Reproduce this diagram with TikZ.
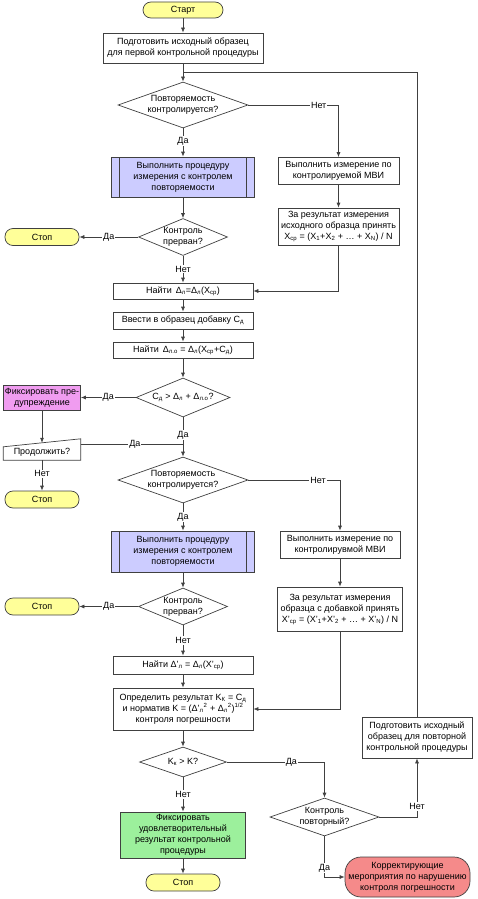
\documentclass[tikz,border=0pt]{standalone}
\usepackage{fontspec}
\setmainfont{Liberation Sans}
\usetikzlibrary{shapes.geometric,arrows.meta}

\definecolor{linegray}{HTML}{404040}
\definecolor{termyellow}{HTML}{FFFF99}
\definecolor{procblue}{HTML}{CCCCFF}
\definecolor{warnpink}{HTML}{F09CF0}
\definecolor{okgreen}{HTML}{9CF09C}
\definecolor{fixred}{HTML}{F58A8A}

\begin{document}
\begin{tikzpicture}[x=1pt, y=-1pt, >={Latex[length=5pt,width=4pt]},
    every node/.style={font=\fontsize{9}{11}\selectfont, align=center},
    box/.style={draw=linegray, line width=0.7pt, fill=white, inner sep=1pt},
    term/.style={box, rounded corners=8pt, fill=termyellow, minimum width=74pt, minimum height=17pt},
    subproc/.style={box, fill=procblue, minimum width=143pt, path picture={
        \draw[linegray, line width=0.7pt]
          ([xshift=8pt]path picture bounding box.north west) -- ([xshift=8pt]path picture bounding box.south west)
          ([xshift=-8pt]path picture bounding box.north east) -- ([xshift=-8pt]path picture bounding box.south east);}},
    decide/.style={diamond, draw=linegray, line width=0.7pt, fill=white, inner sep=0pt},
    lbl/.style={fill=white, inner sep=1pt},
    flow/.style={draw=linegray, line width=0.7pt}]
    \useasboundingbox (0,0) rectangle (477,899);

    \node[term, minimum width=80pt, minimum height=16pt] (start) at (183,10) {Старт};
    \node[box, minimum width=160pt, minimum height=30pt] (prep1) at (183,48) {Подготовить исходный образец\\для первой контрольной процедуры};
    \node[decide, minimum width=130pt, minimum height=46pt, aspect=2.8] (rep1) at (183,105) {Повторяемость\\контролируется?};
    \node[subproc, minimum height=40pt] (meas1) at (183,177) {Выполнить процедуру\\измерения с контролем\\повторяемости};
    \node[decide, minimum width=89pt, minimum height=37pt, aspect=2.4] (int1) at (183,237) {Контроль\\прерван?};
    \node[term] (stop1) at (42,237) {Стоп};
    \node[box, minimum width=121pt, minimum height=27pt] (mvi1) at (338.5,171) {Выполнить измерение по\\контролируемой МВИ};
    \node[box, minimum width=121pt, minimum height=37pt] (avg1) at (338.5,226.5) {За результат измерения\\исходного образца принять\\X\textsubscript{ср} = (X\textsubscript{1}+X\textsubscript{2} + … + X\textsubscript{N}) / N};
    \node[box, minimum width=140pt, minimum height=16pt] (find1) at (183,291) {Найти\, Δ\textsubscript{л}=Δ\textsubscript{л}(X\textsubscript{ср})};
    \node[box, minimum width=140pt, minimum height=17pt] (add) at (183,320.5) {Ввести в образец добавку C\textsubscript{д}};
    \node[box, minimum width=140pt, minimum height=16pt] (find2) at (183,350) {Найти\, Δ\textsubscript{л.о} = Δ\textsubscript{л}(X\textsubscript{ср}+C\textsubscript{д})};
    \node[decide, minimum width=94pt, minimum height=39pt, aspect=2.4] (cmp) at (183,397.5) {C\textsubscript{д} > Δ\textsubscript{л} + Δ\textsubscript{л.о}?};
    \node[box, fill=warnpink, inner sep=0.5pt, minimum width=77pt, minimum height=25pt] (warn) at (42,397.5) {Фиксировать пре-\\дупреждение};
    \node[minimum width=77pt, minimum height=21pt, inner sep=0pt] (cont) at (42,449.5) {\raisebox{-2.5pt}[\height][\depth]{Продолжить?}};
    \node[term] (stop2) at (42,499.5) {Стоп};
    \node[decide, minimum width=130pt, minimum height=46pt, aspect=2.8] (rep2) at (183,480) {Повторяемость\\контролируется?};
    \node[subproc, minimum height=41pt] (meas2) at (183,551.5) {Выполнить процедуру\\измерения с контролем\\повторяемости};
    \node[box, minimum width=120pt, minimum height=27pt] (mvi2) at (340,544.5) {Выполнить измерение по\\контролирувмой МВИ};
    \node[box, minimum width=125pt, minimum height=44pt] (avg2) at (340,609) {За результат измерения\\образца с добавкой принять\\X'\textsubscript{ср} = (X'\textsubscript{1}+X'\textsubscript{2} + … + X'\textsubscript{N}) / N};
    \node[decide, minimum width=89pt, minimum height=37pt, aspect=2.4] (int2) at (183,606.5) {Контроль\\прерван?};
    \node[term] (stop3) at (42,606.5) {Стоп};
    \node[box, minimum width=140pt, minimum height=18pt] (find3) at (183,665) {Найти Δ'\textsubscript{л} = Δ\textsubscript{л}(X'\textsubscript{ср})};
    \node[box, minimum width=140pt, minimum height=42pt] (result) at (183,709) {Определить результат K\textsubscript{К} = C\textsubscript{д}\\и норматив K = (Δ'\textsubscript{л}\textsuperscript{2} + Δ\textsubscript{л}\textsuperscript{2})\textsuperscript{1/2}\\контроля погрешности};
    \node[decide, minimum width=87pt, minimum height=30pt, aspect=2.9] (kk) at (183,762) {K\textsubscript{к} > K?};
    \node[box, fill=okgreen, minimum width=125pt, minimum height=46pt] (ok) at (183,835) {Фиксировать\\удовлетворительный\\результат контрольной\\процедуры};
    \node[term] (stop4) at (183,882.5) {Стоп};
    \node[decide, minimum width=109pt, minimum height=38pt, aspect=2.87] (again) at (324.5,817) {Контроль\\повторный?};
    \node[box, minimum width=110pt, minimum height=41pt] (prep2) at (417,737.5) {Подготовить исходный\\образец для повторной\\контрольной процедуры};
    \node[box, rounded corners=16pt, fill=fixred, inner sep=0pt, minimum width=125pt, minimum height=40pt] (fix) at (407.5,877) {Корректирующие\\мероприятия по нарушению\\контроля погрешности};

    \draw[flow] (cont.south west) -- (cont.south east) -- (cont.north east) -- ([yshift=-8pt]cont.north west) -- cycle;
    \coordinate (j1) at (183,72);
    \coordinate (contout) at ([yshift=5.5pt]cont.east);

    \draw[flow,->] (start) -- (prep1);
    \draw[flow,->] (prep1) -- (rep1);
    \draw[flow] (prep2.north) |- (j1);
    \draw[flow,->] (rep1.east) -| node[lbl,pos=0.39] {Нет} (mvi1.north);
    \draw[flow,->] (rep1.south) -- node[lbl,pos=0.45] {Да} (meas1.north);
    \draw[flow,->] (meas1) -- (int1);
    \draw[flow,->] (int1.west) -- node[lbl] {Да} (stop1.east);
    \draw[flow,->] (int1.south) -- node[lbl] {Нет} (find1.north);
    \draw[flow,->] (mvi1) -- (avg1);
    \draw[flow,->] (avg1.south) |- (find1.east);
    \draw[flow,->] (find1) -- (add);
    \draw[flow,->] (add) -- (find2);
    \draw[flow,->] (find2) -- (cmp);
    \draw[flow,->] (cmp.west) -- node[lbl] {Да} (warn.east);
    \draw[flow,->] (cmp.south) -- node[lbl,pos=0.45] {Да} (rep2.north);
    \draw[flow,->] (warn.south) -- ([yshift=-4pt]cont.north);
    \draw[flow] (contout) -- node[lbl,pos=0.53] {Да} (contout -| cmp.south);
    \draw[flow,->] (cont.south) -- node[lbl,pos=0.45] {Нет} (stop2.north);
    \draw[flow,->] (rep2.east) -| node[lbl,pos=0.38] {Нет} (mvi2.north);
    \draw[flow,->] (rep2.south) -- node[lbl] {Да} (meas2.north);
    \draw[flow,->] (meas2) -- (int2);
    \draw[flow,->] (int2.west) -- node[lbl] {Да} (stop3.east);
    \draw[flow,->] (int2.south) -- node[lbl] {Нет} (find3.north);
    \draw[flow,->] (mvi2) -- (avg2);
    \draw[flow,->] (avg2.south) |- (result.east);
    \draw[flow,->] (find3) -- (result);
    \draw[flow,->] (result) -- (kk);
    \draw[flow,->] (kk.south) -- node[lbl] {Нет} (ok.north);
    \draw[flow,->] (ok) -- (stop4);
    \draw[flow,->] (kk.east) -| node[lbl,pos=0.33] {Да} (again.north);
    \draw[flow,->] (again.east) -| node[lbl,pos=0.59] {Нет} (prep2.south);
    \draw[flow,->] (again.south) |- node[lbl,pos=0.39] {Да} (fix.west);
\end{tikzpicture}
\end{document}
